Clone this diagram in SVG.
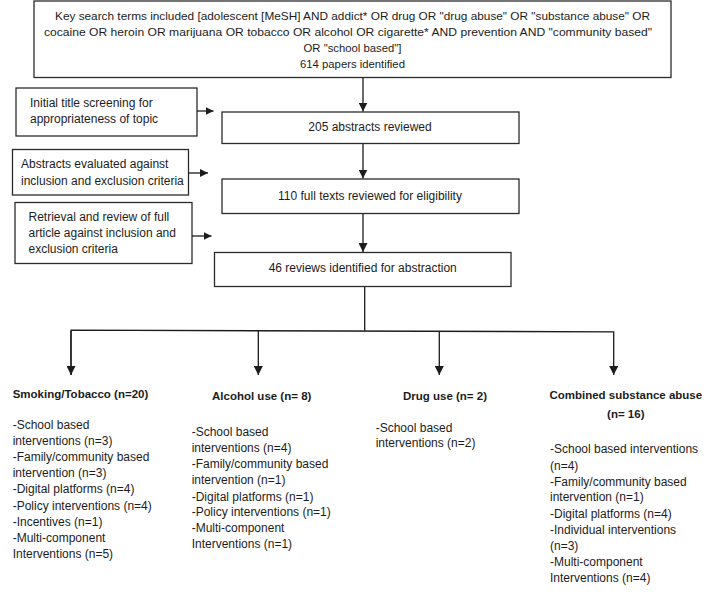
<svg xmlns="http://www.w3.org/2000/svg" width="714" height="598" viewBox="0 0 714 598">
<style>
.box{fill:#fff;stroke:#2b2b2b;stroke-width:1.3}
.t{font-family:"Liberation Sans",Arial,sans-serif;font-size:12px;fill:#1c1c1c}
.ts{font-family:"Liberation Sans",Arial,sans-serif;font-size:11.3px;fill:#1c1c1c}
.b{font-family:"Liberation Sans",Arial,sans-serif;font-size:11.5px;font-weight:bold;fill:#1c1c1c}
.c{text-anchor:middle}
.ln{fill:none;stroke:#1c1c1c;stroke-width:1.3}
</style>
<defs>
<marker id="big" markerUnits="userSpaceOnUse" viewBox="0 0 9 9" markerWidth="9" markerHeight="9" refX="9" refY="4.5" orient="auto"><path d="M0,0 L9,4.5 L0,9 z" fill="#1c1c1c"/></marker>
<marker id="sm" markerUnits="userSpaceOnUse" viewBox="0 0 8 8" markerWidth="8" markerHeight="8" refX="8" refY="4" orient="auto"><path d="M0,0 L8,4 L0,8 z" fill="#1c1c1c"/></marker>
</defs>
<rect width="714" height="598" fill="#fff"/>

<g id="search">
<rect class="box" x="34" y="1" width="637" height="76.5"/>
<text class="ts c" x="352.5" y="19.5" textLength="595" lengthAdjust="spacingAndGlyphs">Key search terms included [adolescent [MeSH] AND addict* OR drug OR "drug abuse" OR "substance abuse" OR</text>
<text class="ts c" x="348" y="35.5" textLength="608" lengthAdjust="spacingAndGlyphs">cocaine OR heroin OR marijuana OR tobacco OR alcohol OR cigarette* AND prevention AND "community based"</text>
<text class="ts c" x="352.5" y="51.5">OR "school based"]</text>
<text class="ts c" x="352.5" y="67.5">614 papers identified</text>
</g>

<g id="screen1">
<rect class="box" x="16" y="88" width="181" height="48"/>
<text class="t" x="30" y="106.5">Initial title screening for</text>
<text class="t" x="30" y="122.5">appropriateness of topic</text>
</g>

<g id="abstracts">
<rect class="box" x="222" y="112" width="297" height="31.5"/>
<text class="t c" x="370" y="131">205 abstracts reviewed</text>
</g>

<g id="screen2">
<rect class="box" x="12.5" y="149.5" width="176" height="45.5"/>
<text class="t" x="21" y="168">Abstracts evaluated against</text>
<text class="t" x="21" y="184.5">inclusion and exclusion criteria</text>
</g>

<g id="fulltexts">
<rect class="box" x="222" y="179" width="297" height="34.5"/>
<text class="t c" x="370" y="200">110 full texts reviewed for eligibility</text>
</g>

<g id="screen3">
<rect class="box" x="15" y="202.5" width="177" height="61"/>
<text class="t" x="28.5" y="220.5">Retrieval and review of full</text>
<text class="t" x="28.5" y="236.5">article against inclusion and</text>
<text class="t" x="28.5" y="252.5">exclusion criteria</text>
</g>

<g id="reviews">
<rect class="box" x="214.5" y="252.5" width="296.5" height="34"/>
<text class="t c" x="362.7" y="271.5">46 reviews identified for abstraction</text>
</g>

<g id="connectors">
<line class="ln" x1="363" y1="77.5" x2="363" y2="111.5" marker-end="url(#big)"/>
<line class="ln" x1="363" y1="143.5" x2="363" y2="178.5" marker-end="url(#big)"/>
<line class="ln" x1="363" y1="213.5" x2="363" y2="252" marker-end="url(#big)"/>
<line class="ln" x1="197" y1="111" x2="213.5" y2="111" marker-end="url(#sm)"/>
<line class="ln" x1="189" y1="173" x2="208" y2="173" marker-end="url(#sm)"/>
<line class="ln" x1="192" y1="236" x2="211.5" y2="236" marker-end="url(#sm)"/>
<line class="ln" x1="364.7" y1="286.5" x2="364.7" y2="330.7"/>
<path class="ln" d="M71,375 V330.2 L613.7,331.8 V375" marker-end="url(#big)"/>
<line class="ln" x1="71" y1="331" x2="71" y2="375" marker-end="url(#big)"/>
<line class="ln" x1="258.3" y1="330.8" x2="258.3" y2="375" marker-end="url(#big)"/>
<line class="ln" x1="439.3" y1="331.3" x2="439.3" y2="375" marker-end="url(#big)"/>
</g>

<g id="smoking">
<text class="b" x="12.7" y="397.5">Smoking/Tobacco (n=20)</text>
<text class="t" x="12.7" y="429">-School based</text>
<text class="t" x="12.7" y="445">interventions (n=3)</text>
<text class="t" x="12.7" y="461">-Family/community based</text>
<text class="t" x="12.7" y="477">intervention (n=3)</text>
<text class="t" x="12.7" y="493">-Digital platforms (n=4)</text>
<text class="t" x="12.7" y="509.5">-Policy interventions (n=4)</text>
<text class="t" x="12.7" y="525.5">-Incentives (n=1)</text>
<text class="t" x="12.7" y="541.5">-Multi-component</text>
<text class="t" x="12.7" y="557.5">Interventions (n=5)</text>
</g>

<g id="alcohol">
<text class="b c" x="261.7" y="399.5">Alcohol use (n= 8)</text>
<text class="t" x="191.7" y="435.7">-School based</text>
<text class="t" x="191.7" y="452">interventions (n=4)</text>
<text class="t" x="191.7" y="468.3">-Family/community based</text>
<text class="t" x="191.7" y="484">intervention (n=1)</text>
<text class="t" x="191.7" y="500.5">-Digital platforms (n=1)</text>
<text class="t" x="191.7" y="516.3">-Policy interventions (n=1)</text>
<text class="t" x="191.7" y="532.3">-Multi-component</text>
<text class="t" x="191.7" y="548.3">Interventions (n=1)</text>
</g>

<g id="drug">
<text class="b c" x="445" y="399.5">Drug use (n= 2)</text>
<text class="t" x="375.7" y="431.7">-School based</text>
<text class="t" x="375.7" y="447.3">interventions (n=2)</text>
</g>

<g id="combined">
<text class="b c" x="625.8" y="398.5">Combined substance abuse</text>
<text class="b c" x="625.8" y="418">(n= 16)</text>
<text class="t" x="550" y="453.3">-School based interventions</text>
<text class="t" x="550" y="470">(n=4)</text>
<text class="t" x="550" y="485.7">-Family/community based</text>
<text class="t" x="550" y="501.3">intervention (n=1)</text>
<text class="t" x="550" y="518">-Digital platforms (n=4)</text>
<text class="t" x="550" y="534">-Individual interventions</text>
<text class="t" x="550" y="550">(n=3)</text>
<text class="t" x="550" y="566.3">-Multi-component</text>
<text class="t" x="550" y="582.3">Interventions (n=4)</text>
</g>
</svg>
